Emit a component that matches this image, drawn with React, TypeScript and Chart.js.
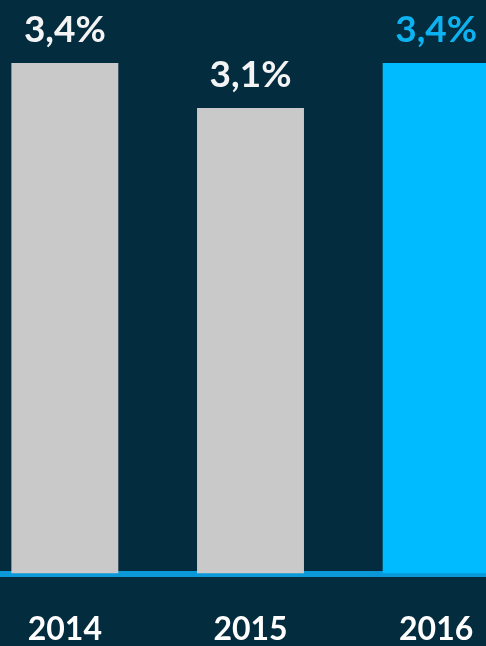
import React, { useEffect, useRef } from "react";
import { Chart, registerables } from "chart.js";

Chart.register(...registerables);

const categories = ["2014", "2015", "2016"];
const values = [3.4, 3.1, 3.4];
const valueLabels = ["3,4%", "3,1%", "3,4%"];
const barColors = ["#c9c9c9", "#c9c9c9", "#00bbff"];
const labelColors = ["#f4f4f4", "#f4f4f4", "#0db2f0"];
const yMax = 3.82;

const BG = "#032c3e";

const valueLabelPlugin = {
  id: "valueLabels",
  afterDatasetsDraw(chart: any) {
    const ctx = chart.ctx;
    const meta = chart.getDatasetMeta(0);
    ctx.save();
    ctx.font = "bold 37px Lato";
    ctx.textAlign = "center";
    ctx.textBaseline = "alphabetic";
    meta.data.forEach((bar: any, i: number) => {
      ctx.fillStyle = labelColors[i];
      ctx.fillText(valueLabels[i], bar.x, bar.y - 21);
    });
    ctx.restore();
  },
};

export default function App() {
  const ref = useRef<HTMLCanvasElement | null>(null);
  useEffect(() => {
    if (!ref.current) return;
    const chart = new Chart(ref.current, {
      type: "bar",
      data: {
        labels: categories,
        datasets: [
          {
            data: values,
            backgroundColor: barColors,
            borderWidth: 0,
            barPercentage: 1,
            categoryPercentage: 0.576,
          },
        ],
      },
      options: {
        animation: false,
        responsive: true,
        maintainAspectRatio: false,
        layout: { padding: 0 },
        plugins: { legend: { display: false }, tooltip: { enabled: false } },
        scales: {
          x: {
            z: 1,
            grid: { display: false, drawTicks: false },
            border: { display: true, color: "#0a98d8", width: 6 },
            ticks: {
              color: "#ffffff",
              font: { family: "Lato", weight: "bold", size: 32 },
              padding: 37,
              maxRotation: 0,
            },
          },
          y: {
            display: false,
            min: 0,
            max: yMax,
          },
        },
      },
      plugins: [valueLabelPlugin],
    });
    return () => chart.destroy();
  }, []);

  return (
    <div
      style={{
        position: "fixed",
        left: 0,
        top: 0,
        width: 486,
        height: 646,
        overflow: "hidden",
        background: BG,
      }}
    >
      <div style={{ position: "absolute", left: -28, top: 0, width: 557, height: 686 }}>
        <canvas ref={ref} />
      </div>
    </div>
  );
}
